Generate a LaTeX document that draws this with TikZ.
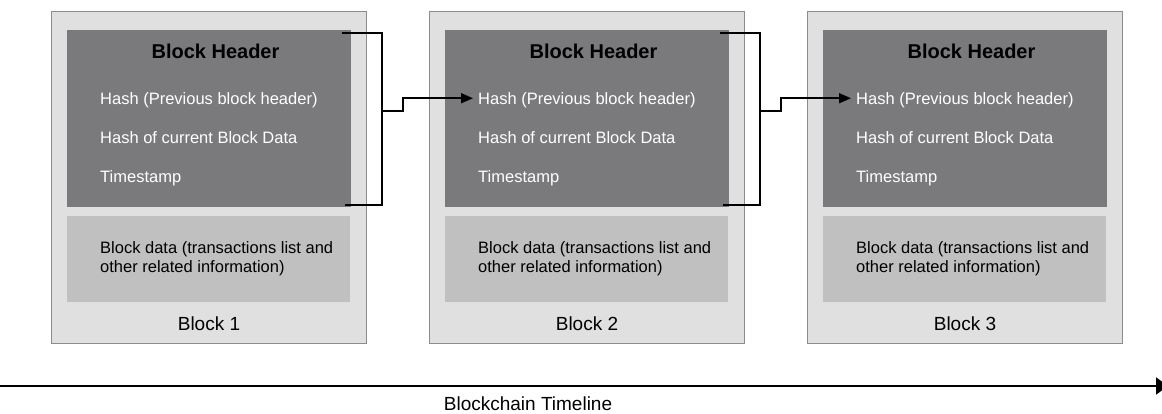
\documentclass[tikz,border=0pt]{standalone}
\usepackage{fontspec}
\setmainfont{Liberation Sans}
\usetikzlibrary{arrows.meta}
\definecolor{blockfill}{HTML}{E0E0E0}
\definecolor{blockline}{HTML}{8C8C8C}
\definecolor{headfill}{HTML}{7A7A7C}
\definecolor{datafill}{HTML}{C0C0C0}
\tikzset{
  blockbox/.style={draw=blockline, line width=1pt, fill=blockfill,
    minimum width=315pt, minimum height=331pt, inner sep=0pt, outer sep=0pt},
  headbox/.style={fill=headfill, minimum width=284pt, minimum height=177pt,
    inner sep=0pt, outer sep=0pt},
  databox/.style={fill=datafill, minimum width=283pt, minimum height=86pt,
    inner sep=0pt, outer sep=0pt},
  hdrtitle/.style={font=\fontsize{20}{24}\selectfont\bfseries, anchor=base, inner sep=0pt},
  field/.style={font=\fontsize{16.5}{20}\selectfont, text=white, anchor=base west, inner sep=0pt},
  datatext/.style={font=\fontsize{16.5}{20}\selectfont, anchor=base west, inner sep=0pt},
  blocklabel/.style={font=\fontsize{19}{23}\selectfont, anchor=base, inner sep=0pt},
  link/.style={line width=1.8pt, draw=black},
  linkarrow/.style={link, -{Triangle[length=12pt,width=10pt]}},
  timeline/.style={line width=2pt, draw=black, -{Triangle[length=12pt,width=17pt]}},
}
\begin{document}
\begin{tikzpicture}[x=1pt, y=-1pt]
\useasboundingbox (0,0) rectangle (1162,414);

% the three blocks
\foreach \i/\n in {0/1,1/2,2/3} {
  \begin{scope}[xshift=378*\i]
    \node[blockbox] (b\n) at (208.5,177.5) {};
    \node[headbox]  (h\n) at (209,118.5) {};
    \node[databox]  (d\n) at (208.5,259) {};
    \node[hdrtitle] (t\n) at (215.5,59) {Block Header};
    \node[field]    (p\n) at (100,105) {Hash (Previous block header)};
    \node[field]    (c\n) at (100,143.5) {Hash of current Block Data};
    \node[field]    (s\n) at (100,183) {Timestamp};
    \node[datatext] (da\n) at (100,253.3) {Block data (transactions list and};
    \node[datatext] (db\n) at (100,272.8) {other related information)};
    \node[blocklabel] (l\n) at (209,330) {Block \n};
  \end{scope}
}

% header brackets and links to the next block
\foreach \i/\j in {1/2,2/3} {
  \coordinate (ta\i) at (342+378*\i-378,33);
  \coordinate (tc\i) at (382+378*\i-378,33);
  \coordinate (bc\i) at (382+378*\i-378,205);
  \coordinate (ba\i) at (345+378*\i-378,205);
  \coordinate (m\i)  at (382+378*\i-378,111);
  \draw[link] (ta\i) -- (tc\i) -- (bc\i) -- (ba\i);
  \draw[linkarrow] (m\i) -- ++(21,0) |- ([xshift=-5pt,yshift=2.5pt]p\j.west);
}

% timeline
\coordinate (tl0) at (0,386);
\coordinate (tl1) at (1168,386);
\draw[timeline] (tl0) -- (tl1);
\node[blocklabel] (tll) at (528,410.7) {Blockchain Timeline};
\end{tikzpicture}
\end{document}
